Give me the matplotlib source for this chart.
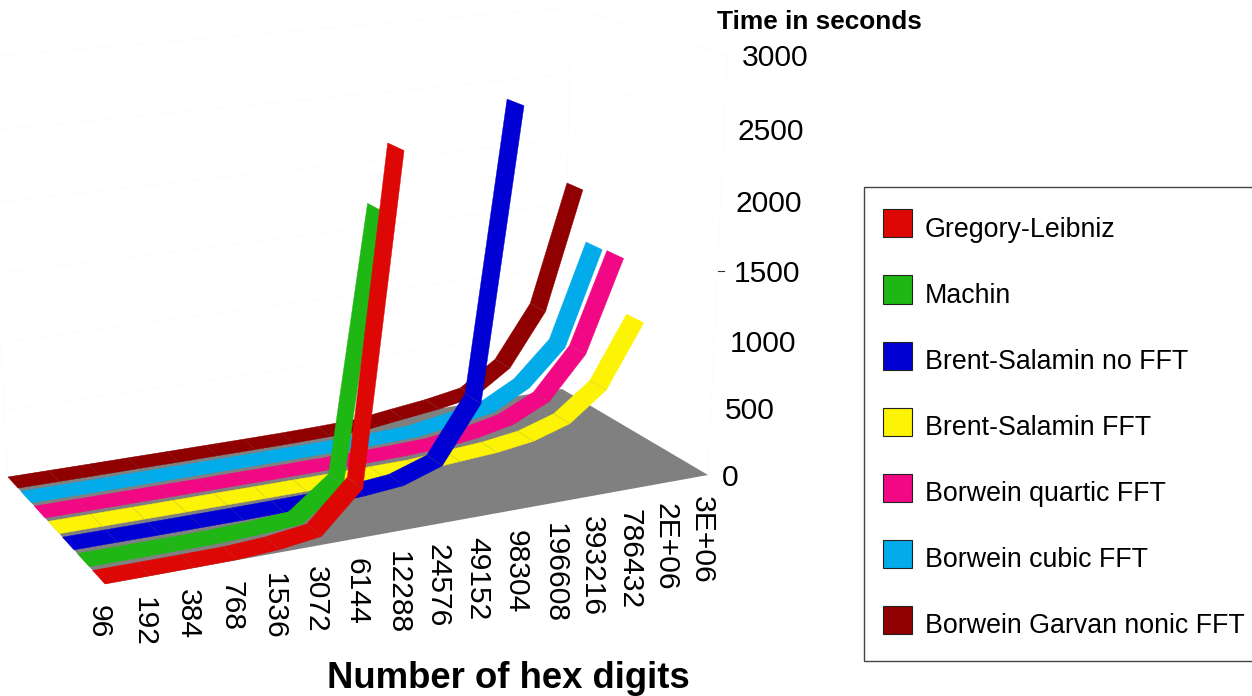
import numpy as np
import matplotlib
matplotlib.use("Agg")
import matplotlib.pyplot as plt
from matplotlib.patches import Patch, Polygon, Rectangle

categories = ["96", "192", "384", "768", "1536", "3072", "6144", "12288", "24576", "49152",
              "98304", "196608", "393216", "786432", "2E+06", "3E+06"]
gregory = [0, 0, 1, 3, 20, 60, 345, 2590]
machin = [0, 0, 1, 2, 14, 35, 260, 2120]
brent_no_fft = [0, 0, 0, 1, 2, 5, 10, 25, 52, 150, 565, 2650]
brent_fft = [0, 0, 0, 0, 1, 1, 2, 3, 5, 8, 30, 50, 90, 180, 395, 870]
quartic = [0, 0, 0, 1, 1, 2, 3, 5, 8, 14, 25, 60, 120, 255, 580, 1280]
cubic = [0, 0, 0, 1, 1, 2, 3, 5, 7, 12, 22, 70, 115, 265, 540, 1270]
nonic = [0, 0, 0, 1, 1, 2, 3, 5, 10, 18, 55, 90, 140, 330, 740, 1660]
series_names = ["Gregory-Leibniz", "Machin", "Brent-Salamin no FFT", "Brent-Salamin FFT",
                "Borwein quartic FFT", "Borwein cubic FFT", "Borwein Garvan nonic FFT"]
series_values = [gregory, machin, brent_no_fft, brent_fft, quartic, cubic, nonic]
z_ticks = [0, 500, 1000, 1500, 2000, 2500, 3000]

colors = ["#DD0806", "#1FB714", "#0000D4", "#FCF305", "#F20884", "#02ABEA", "#900000"]
FONT = "Liberation Sans"
RIB = 0.78
VMAX = 6 + RIB
UMAX = len(categories) - 1

# Perspective camera: floor homography from the corners of the floor, plus a vanishing point for height
src = [(0, 0), (UMAX, 0), (0, VMAX), (UMAX, VMAX)]
dst = [(105, 584), (708, 475), (8, 477), (562, 389)]
A, b = [], []
for (s, t), (x, y) in zip(src, dst):
    A.append([s, t, 1, 0, 0, 0, -x * s, -x * t]); b.append(x)
    A.append([0, 0, 0, s, t, 1, -y * s, -y * t]); b.append(y)
H = np.append(np.linalg.solve(np.array(A, float), np.array(b, float)), 1).reshape(3, 3)
VP = np.array([395.0, 7280.0, 1.0])
_corner = H @ np.array([UMAX, 0, 1.0])
K = -0.0581 * _corner[2] / 3000


def project(u, v, w=0.0):
    p = H @ np.array([u, v, 1.0]) + w * K * VP
    return p[0] / p[2], p[1] / p[2]


fig = plt.figure(figsize=(12.52, 6.96), dpi=100)
ax = fig.add_axes([0, 0, 1, 1])
ax.set_xlim(0, 1252)
ax.set_ylim(696, 0)
ax.axis("off")

# faint walls
wall = "#FCFCFC"
for w in z_ticks:
    ax.plot(*zip(project(UMAX, 0, w), project(UMAX, VMAX, w), project(0, VMAX, w)), color=wall, lw=0.8, zorder=1)
for u, v in [(UMAX, 0), (UMAX, VMAX), (0, VMAX)]:
    ax.plot(*zip(project(u, v, 0), project(u, v, 3000)), color=wall, lw=0.8, zorder=1)

# floor
ax.add_patch(Polygon([project(0, 0), project(UMAX, 0), project(UMAX, VMAX), project(0, VMAX)],
                     closed=True, facecolor="#808080", edgecolor="none", zorder=2))

# ribbons, back to front
for i in range(len(series_values) - 1, -1, -1):
    vals = series_values[i]
    v0, v1 = i, i + RIB
    z = 3 + (len(series_values) - i)
    for k in range(len(vals) - 1):
        quad = [project(k, v0, vals[k]), project(k + 1, v0, vals[k + 1]),
                project(k + 1, v1, vals[k + 1]), project(k, v1, vals[k])]
        ax.add_patch(Polygon(quad, closed=True, facecolor=colors[i], edgecolor=colors[i], lw=0.3, zorder=z))
    for k in range(1, len(vals) - 1):
        ax.plot(*zip(project(k, v0, vals[k]), project(k, v1, vals[k])),
                color="#808080", lw=0.3, alpha=0.35, zorder=z + 0.5)

# category labels
for k, lab in enumerate(categories):
    x, y = project(k, 0)
    ax.text(x - 6, y + 21, lab, rotation=270, ha="center", va="top", fontsize=21.6,
            family=FONT, color="black", zorder=20)

# height labels
z_center = [730, 750, 763, 767, 769, 771, 775]
for w, xc in zip(z_ticks, z_center):
    _, y = project(UMAX, 0, w)
    ax.text(xc, y + 3, str(w), ha="center", va="center", fontsize=21.6, family=FONT, color="black", zorder=20)
tx, ty = project(UMAX, 0, 1500)
ax.plot([tx + 1, tx + 7], [ty, ty], color="#333333", lw=0.8, zorder=20)

ax.text(717, 22, "Time in seconds", ha="left", va="center", fontsize=18.9, fontweight="bold", family=FONT)
ax.text(508, 679, "Number of hex digits", ha="center", va="center", fontsize=26.3, fontweight="bold", family=FONT)

# legend: frame drawn separately so that its padding can differ per side
ax.add_patch(Rectangle((863.5, 186.5), 420, 474, facecolor="white", edgecolor="#444444", lw=1.0, zorder=29))
handles = [Patch(facecolor=c, edgecolor="#222222", lw=0.8, label=n) for c, n in zip(colors, series_names)]
leg = ax.legend(handles=handles, loc="upper left", bbox_to_anchor=(883, 216), bbox_transform=ax.transData,
                prop={"family": FONT, "size": 19.3}, frameon=False, borderpad=0, borderaxespad=0,
                handlelength=1.08, handleheight=1.0, handletextpad=0.49, labelspacing=1.45)
leg.set_zorder(30)
for p in leg.legend_handles:
    p.set_width(20.9)
    p.set_height(20.2)
    p.set_y(p.get_y() + 1.8)

fig.savefig("out.png", dpi=100)
